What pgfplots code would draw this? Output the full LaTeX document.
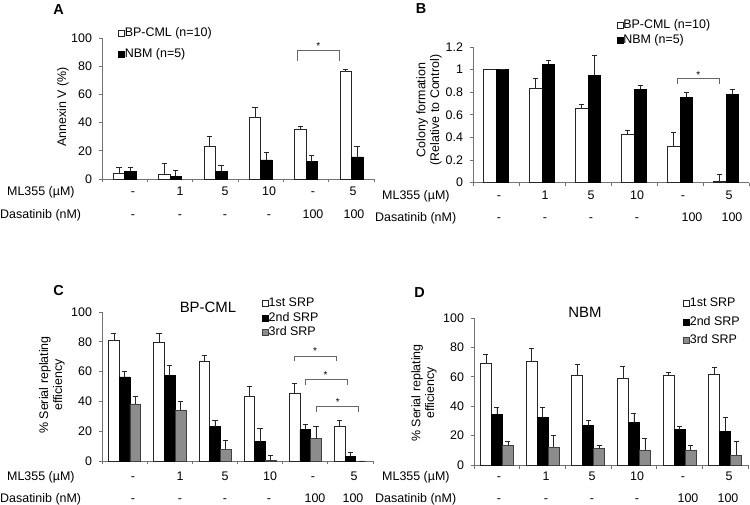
\documentclass[border=0pt]{standalone}
\usepackage{pgfplots}
\pgfplotsset{compat=1.18}
\usepackage{pgfplotstable}
\usepackage{fontspec}
\setmainfont{Liberation Sans}

\pgfplotstableread{
x bp bpe nbm nbme
0 4.0 4.5 5.2 3.3
1 3.5 7.5 2.0 4.0
2 23.4 7.0 5.4 4.6
3 43.5 7.0 13.5 5.5
4 35.2 2.2 12.3 4.7
5 76.4 1.6 15.6 7.8
}\tA
\pgfplotstableread{
x bp bpe nbm nbme
0 1.000 0.000 1.000 0.000
1 0.834 0.092 1.047 0.038
2 0.654 0.042 0.946 0.183
3 0.430 0.036 0.825 0.039
4 0.321 0.124 0.755 0.041
5 0.010 0.064 0.784 0.041
}\tB
\pgfplotstableread{
x a ae b be c ce
0 80.8 4.7 56.4 4.0 38.3 5.1
1 79.4 6.1 57.3 7.1 34.2 5.8
2 67.1 4.0 23.0 4.3 8.0 6.1
3 43.2 6.9 13.0 9.1 0.3 3.7
4 45.2 6.9 21.0 3.4 15.0 8.0
5 23.0 4.1 3.1 2.7 0.0 0.0
}\tC
\pgfplotstableread{
x a ae b be c ce
0 69.4 5.9 34.5 5.0 13.2 2.9
1 70.5 8.9 32.2 7.3 12.2 8.0
2 61.0 7.3 27.0 3.6 11.1 2.3
3 59.0 8.1 28.8 6.3 10.0 8.1
4 61.0 2.0 24.0 2.3 10.0 3.2
5 61.9 4.5 22.9 9.3 6.8 9.3
}\tD

\newcommand{\fs}{\fontsize{12.5}{14}\selectfont}
\pgfplotsset{
  panel/.style={scale only axis, anchor=south west,
    xmin=-0.5, xmax=5.5, ymin=0,
    axis x line*=bottom, axis y line*=left,
    axis line style={-, draw=black!55, line width=0.7pt},
    xtick={-0.5,0.5,1.5,2.5,3.5,4.5,5.5}, xticklabels={},
    tick align=outside, major tick length=3.5bp,
    tick style={draw=black!55, line width=0.7pt},
    ybar=0pt, clip=false,
    /pgf/number format/assume math mode=true,
    yticklabel style={font=\fs, xshift=-3bp},
    legend cell align=left,
    legend style={draw=none, fill=none, inner sep=0pt, font=\fs,
      nodes={text height=9bp, text depth=2.5bp, inner sep=0pt},
      /tikz/every even column/.append style={column sep=1.8bp}},
  },
  sq/.style={legend image code/.code={\draw[##1] (0bp,-3bp) rectangle (6bp,3bp);}},
  errs/.style={/pgfplots/error bars/y dir=plus, /pgfplots/error bars/y explicit,
    /pgfplots/error bars/error bar style={draw=black!85, line width=0.6pt},
    /pgfplots/error bars/error mark options={draw=black!85, line width=0.6pt, mark size=2.6bp, rotate=90}},
  wbar/.style={fill=white, draw=black!85, line width=0.6pt, sq, errs},
  kbar/.style={fill=black, draw=black, line width=0.6pt, sq, errs},
  gbar/.style={fill=black!45, draw=black!75, line width=0.6pt, sq, errs},
}

\begin{document}
\begin{tikzpicture}
\useasboundingbox (0,0) rectangle (750bp,505bp);

% ---------- Panel A ----------
\begin{axis}[panel, at={(102bp,326bp)}, width=272bp, height=141bp,
  ymax=100, ytick={0,20,40,60,80,100}, bar width=11.5bp,
  legend style={at={(0.059,1.074)}, anchor=north west, row sep=9bp}]
\addplot[wbar] table[x=x, y=bp, y error=bpe] {\tA};
\addplot[kbar] table[x=x, y=nbm, y error=nbme] {\tA};
\legend{BP-CML (n=10), NBM (n=5)}
\draw[black!60, line width=0.6pt] (axis cs:3.80,84) -- (axis cs:3.80,91) -- (axis cs:4.73,91) -- (axis cs:4.73,84);
\node[font=\fontsize{10}{10}\selectfont] at (axis cs:4.27,94.5) {*};
\end{axis}

% ---------- Panel B ----------
\begin{axis}[panel, at={(473bp,322.3bp)}, width=276bp, height=135.7bp,
  ymax=1.2, ytick={0,0.2,0.4,0.6,0.8,1,1.2}, bar width=12.5bp,
  legend style={at={(0.52,1.203)}, anchor=north west, row sep=3.5bp}]
\addplot[wbar] table[x=x, y=bp, y error=bpe] {\tB};
\addplot[kbar] table[x=x, y=nbm, y error=nbme] {\tB};
\legend{BP-CML (n=10), NBM (n=5)}
\draw[black!60, line width=0.6pt] (axis cs:3.94,0.87) -- (axis cs:3.94,0.923) -- (axis cs:4.85,0.923) -- (axis cs:4.85,0.87);
\node[font=\fontsize{10}{10}\selectfont] at (axis cs:4.4,0.955) {*};
\end{axis}

% ---------- Panel C ----------
\begin{axis}[panel, at={(102bp,44bp)}, width=271bp, height=149bp,
  ymax=100, ytick={0,20,40,60,80,100}, bar width=10.7bp,
  legend style={at={(0.59,1.097)}, anchor=north west, row sep=3bp}]
\addplot[wbar] table[x=x, y=a, y error=ae] {\tC};
\addplot[kbar] table[x=x, y=b, y error=be] {\tC};
\addplot[gbar] table[x=x, y=c, y error=ce] {\tC};
\legend{1st SRP, 2nd SRP, 3rd SRP}
\draw[black!60, line width=0.6pt] (axis cs:3.76,67) -- (axis cs:3.76,70.2) -- (axis cs:4.68,70.2) -- (axis cs:4.68,67);
\node[font=\fontsize{10}{10}\selectfont] at (axis cs:4.22,73.5) {*};
\draw[black!60, line width=0.6pt] (axis cs:3.99,51) -- (axis cs:3.99,54.6) -- (axis cs:4.92,54.6) -- (axis cs:4.92,51);
\node[font=\fontsize{10}{10}\selectfont] at (axis cs:4.45,57.8) {*};
\draw[black!60, line width=0.6pt] (axis cs:4.24,33) -- (axis cs:4.24,36.5) -- (axis cs:5.17,36.5) -- (axis cs:5.17,33);
\node[font=\fontsize{10}{10}\selectfont] at (axis cs:4.72,39.7) {*};
\end{axis}

% ---------- Panel D ----------
\begin{axis}[panel, at={(474bp,40bp)}, width=274bp, height=147bp,
  ymax=100, ytick={0,20,40,60,80,100}, bar width=11bp,
  legend style={at={(0.763,1.139)}, anchor=north west, row sep=7bp}]
\addplot[wbar] table[x=x, y=a, y error=ae] {\tD};
\addplot[kbar] table[x=x, y=b, y error=be] {\tD};
\addplot[gbar] table[x=x, y=c, y error=ce] {\tD};
\legend{1st SRP, 2nd SRP, 3rd SRP}
\end{axis}

% ---------- Panel letters, titles, axis labels ----------
\begin{scope}[every node/.style={font=\fontsize{14.5}{16}\selectfont\bfseries}]
\node at (58.5bp,495bp) {A};
\node at (421bp,496bp) {B};
\node at (58.5bp,214bp) {C};
\node at (419.5bp,212.5bp) {D};
\end{scope}
\node[font=\fontsize{15}{17}\selectfont] at (208bp,198bp) {BP-CML};
\node[font=\fontsize{15}{17}\selectfont] at (585bp,193bp) {NBM};

\node[font=\fs, rotate=90] at (63bp,398bp) {Annexin V (\%)};
\node[font=\fs, rotate=90, align=center] at (429bp,395bp) {Colony formation\\(Relative to Control)};
\node[font=\fs, rotate=90, align=center] at (52bp,120bp) {\% Serial replating\\efficiency};
\node[font=\fs, rotate=90, align=center] at (424bp,112bp) {\% Serial replating\\efficiency};

% ---------- Treatment rows ----------
\begin{scope}[every node/.style={font=\fs, anchor=base, inner sep=0pt}]
% A
\node[anchor=base west] at (7bp,309bp) {ML355 (µM)};
\node[anchor=base west] at (0bp,286.3bp) {Dasatinib (nM)};
\foreach \xx/\tt in {133/-,180/1,225/5,269/10,313/-,353/5} \node at (\xx bp,309bp) {\tt};
\foreach \xx/\tt in {133/-,180/-,225/-,269/-,313/100,354/100} \node at (\xx bp,286.3bp) {\tt};
% B
\node[anchor=base west] at (382bp,305.7bp) {ML355 (µM)};
\node[anchor=base west] at (375bp,283bp) {Dasatinib (nM)};
\foreach \xx/\tt in {499/-,545/1,591/5,637/10,683/-,729/5} \node at (\xx bp,305.7bp) {\tt};
\foreach \xx/\tt in {499/-,545/-,591/-,637/-,692/100,732/100} \node at (\xx bp,283bp) {\tt};
% C
\node[anchor=base west] at (7bp,25bp) {ML355 (µM)};
\node[anchor=base west] at (0bp,3bp) {Dasatinib (nM)};
\foreach \xx/\tt in {133/-,180/1,225/5,270/10,313/-,354/5} \node at (\xx bp,25bp) {\tt};
\foreach \xx/\tt in {133/-,180/-,225/-,269/-,315/100,353/100} \node at (\xx bp,3bp) {\tt};
% D
\node[anchor=base west] at (382bp,25bp) {ML355 (µM)};
\node[anchor=base west] at (375bp,2.7bp) {Dasatinib (nM)};
\foreach \xx/\tt in {499/-,546/1,592/5,637/10,683/-,729/5} \node at (\xx bp,25bp) {\tt};
\foreach \xx/\tt in {499/-,546/-,592/-,637/-,688/100,728/100} \node at (\xx bp,2.7bp) {\tt};
\end{scope}
\end{tikzpicture}
\end{document}
